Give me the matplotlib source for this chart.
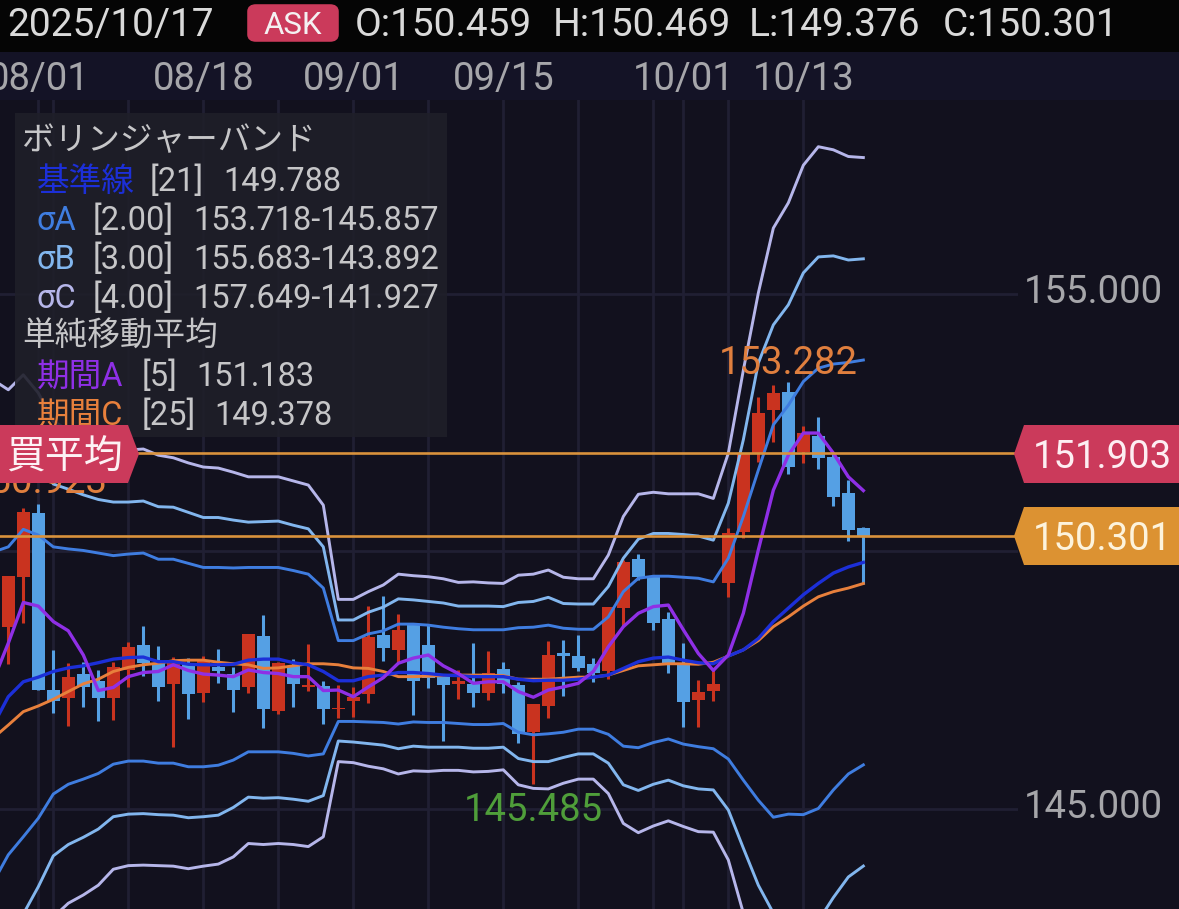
import matplotlib
matplotlib.use("Agg")
import matplotlib.pyplot as plt
from matplotlib.patches import Rectangle, Polygon, FancyBboxPatch
from matplotlib.transforms import ScaledTranslation

plt.rcParams["font.family"] = ["Roboto", "Noto Sans CJK JP", "DejaVu Sans"]

# candles, one per trading day, 08/01 is number 2
opens = [148.54, 149.50, 150.75, 147.31, 147.15, 147.63, 147.49, 147.16, 147.69, 148.18,
         147.83, 147.43, 147.84, 147.26, 147.76, 147.63, 147.37, 148.36, 146.91, 147.78,
         147.36, 147.39, 146.94, 147.10, 147.23, 148.38, 148.09, 148.59, 148.18, 147.56,
         147.43, 147.43, 147.26, 147.72, 147.41, 146.50, 147.00, 148.02, 147.98, 147.81,
         147.67, 148.91, 149.85, 149.51, 148.69, 147.83, 147.12, 147.29, 149.38, 150.37,
         151.91, 152.75, 153.10, 151.94, 152.24, 151.83, 151.14, 150.459]
closes = [149.53, 150.77, 147.32, 147.10, 147.56, 147.36, 147.15, 147.76, 148.14, 147.84,
          147.37, 147.89, 147.23, 147.89, 147.67, 147.32, 148.40, 146.94, 147.83, 147.43,
          147.41, 146.94, 146.97, 147.18, 148.33, 148.12, 148.48, 147.49, 147.54, 147.41,
          147.49, 147.25, 147.65, 147.43, 146.46, 147.04, 147.99, 147.97, 147.73, 147.65,
          148.92, 149.79, 149.50, 148.61, 147.83, 147.07, 147.27, 147.43, 150.35, 151.91,
          152.69, 153.08, 151.65, 152.30, 151.81, 151.06, 150.42, 150.301]
highs = [149.53, 150.84, 150.923, 148.09, 147.83, 147.86, 147.70, 147.86, 148.25, 148.55,
         148.17, 147.96, 147.93, 147.97, 148.11, 147.76, 148.40, 148.77, 147.86, 147.91,
         148.20, 147.49, 147.41, 147.36, 148.94, 149.14, 148.78, 148.59, 148.57, 147.56,
         147.70, 148.22, 148.07, 147.85, 147.47, 147.04, 148.26, 148.28, 148.38, 147.93,
         148.92, 149.83, 149.95, 149.54, 148.83, 148.22, 147.50, 147.70, 150.45, 151.91,
         153.00, 153.23, 153.282, 152.44, 152.61, 151.91, 151.39, 150.469]
lows = [147.82, 148.61, 147.32, 146.87, 146.62, 146.99, 146.70, 146.73, 147.36, 147.58,
        147.10, 146.21, 146.74, 147.08, 147.44, 146.88, 147.26, 146.58, 146.84, 146.99,
        147.30, 146.66, 146.76, 146.78, 147.05, 147.88, 147.84, 146.83, 147.34, 146.32,
        147.13, 146.99, 147.12, 147.25, 146.28, 145.485, 146.76, 147.20, 147.67, 147.47,
        147.52, 148.56, 149.45, 148.48, 147.65, 146.59, 146.60, 147.10, 149.11, 150.26,
        151.74, 152.13, 151.50, 151.71, 151.60, 150.89, 150.21, 149.376]

# indicator lines start one day earlier (number -1), just off the left edge
base_line = [146.63, 147.18, 147.47, 147.56, 147.67, 147.74, 147.78, 147.84, 147.91, 147.94,
             147.95, 147.86, 147.86, 147.81, 147.80, 147.80, 147.81, 147.89, 147.91, 147.91,
             147.84, 147.80, 147.67, 147.49, 147.49, 147.57, 147.60, 147.65, 147.65, 147.63,
             147.60, 147.59, 147.57, 147.57, 147.57, 147.52, 147.49, 147.50, 147.50, 147.52,
             147.56, 147.60, 147.73, 147.86, 147.93, 147.95, 147.89, 147.84, 147.82, 147.97,
             148.09, 148.31, 148.64, 148.90, 149.16, 149.38, 149.58, 149.70, 149.788]
sigma_a_up = [149.99, 150.09, 150.43, 150.32, 150.09, 150.05, 150.02, 149.97, 149.92, 149.95,
              149.97, 149.85, 149.85, 149.77, 149.69, 149.69, 149.68, 149.69, 149.69, 149.69,
              149.63, 149.56, 149.29, 148.27, 148.27, 148.40, 148.46, 148.59, 148.59, 148.57,
              148.53, 148.50, 148.48, 148.48, 148.48, 148.52, 148.53, 148.57, 148.51, 148.49,
              148.49, 148.73, 149.22, 149.48, 149.52, 149.52, 149.50, 149.48, 149.41, 149.87,
              150.68, 151.58, 152.46, 152.84, 153.30, 153.56, 153.64, 153.67, 153.718]
sigma_b_up = [151.58, 151.54, 151.90, 151.70, 151.31, 151.21, 151.10, 151.01, 150.96, 150.96,
              150.98, 150.87, 150.86, 150.76, 150.66, 150.66, 150.61, 150.57, 150.58, 150.59,
              150.51, 150.44, 150.09, 148.67, 148.67, 148.82, 148.92, 149.08, 149.06, 149.03,
              149.00, 148.94, 148.94, 148.94, 148.93, 149.01, 149.03, 149.11, 148.99, 148.98,
              148.98, 149.32, 149.87, 150.24, 150.35, 150.35, 150.33, 150.30, 150.22, 150.94,
              152.17, 153.66, 154.40, 154.79, 155.41, 155.72, 155.74, 155.66, 155.683]
sigma_c_up = [153.33, 153.14, 153.43, 153.08, 152.53, 152.36, 152.18, 152.05, 151.99, 151.97,
              151.99, 151.87, 151.82, 151.72, 151.64, 151.62, 151.54, 151.45, 151.45, 151.45,
              151.37, 151.29, 150.90, 149.07, 149.07, 149.22, 149.35, 149.56, 149.53, 149.51,
              149.47, 149.40, 149.41, 149.39, 149.38, 149.54, 149.56, 149.64, 149.50, 149.47,
              149.47, 149.93, 150.68, 151.11, 151.15, 151.12, 151.12, 151.12, 151.03, 151.91,
              153.52, 155.02, 156.28, 156.77, 157.50, 157.86, 157.80, 157.67, 157.649]
sigma_a_low = [143.58, 144.11, 144.46, 144.82, 145.29, 145.48, 145.58, 145.69, 145.87, 145.93,
               145.93, 145.89, 145.89, 145.82, 145.82, 145.85, 145.95, 146.11, 146.11, 146.11,
               146.08, 146.03, 146.07, 146.70, 146.70, 146.69, 146.68, 146.65, 146.69, 146.68,
               146.68, 146.66, 146.64, 146.64, 146.66, 146.49, 146.44, 146.46, 146.49, 146.55,
               146.55, 146.45, 146.22, 146.19, 146.29, 146.36, 146.26, 146.21, 146.17, 145.97,
               145.56, 145.17, 144.84, 144.90, 144.89, 145.01, 145.37, 145.68, 145.857]
sigma_b_low = [142.17, 142.57, 142.96, 143.49, 144.09, 144.31, 144.45, 144.61, 144.85, 144.90,
               144.91, 144.89, 144.88, 144.83, 144.85, 144.88, 145.03, 145.23, 145.21, 145.22,
               145.19, 145.15, 145.26, 146.32, 146.30, 146.27, 146.24, 146.17, 146.22, 146.20,
               146.20, 146.20, 146.18, 146.18, 146.20, 145.98, 145.92, 145.92, 146.00, 146.07,
               146.07, 145.89, 145.47, 145.36, 145.48, 145.56, 145.45, 145.39, 145.37, 144.98,
               144.24, 143.52, 142.98, 142.90, 142.76, 142.83, 143.28, 143.68, 143.892]
sigma_c_low = [140.51, 141.04, 141.45, 142.09, 142.90, 143.17, 143.33, 143.52, 143.83, 143.90,
               143.91, 143.90, 143.89, 143.84, 143.89, 143.93, 144.07, 144.33, 144.31, 144.33,
               144.31, 144.27, 144.46, 145.92, 145.90, 145.83, 145.78, 145.68, 145.74, 145.73,
               145.75, 145.75, 145.72, 145.73, 145.76, 145.47, 145.40, 145.39, 145.50, 145.58,
               145.58, 145.30, 144.72, 144.54, 144.67, 144.77, 144.66, 144.56, 144.55, 144.01,
               142.98, 142.03, 141.04, 140.90, 140.63, 140.65, 141.17, 141.66, 141.927]
sma_a = [147.50, 148.22, 149.01, 148.94, 148.64, 148.46, 147.99, 147.30, 147.36, 147.57,
         147.65, 147.67, 147.80, 147.69, 147.62, 147.60, 147.57, 147.70, 147.65, 147.63,
         147.57, 147.57, 147.30, 147.31, 147.18, 147.37, 147.55, 147.83, 147.93, 147.99,
         147.78, 147.63, 147.44, 147.47, 147.47, 147.28, 147.17, 147.31, 147.37, 147.44,
         147.67, 148.15, 148.54, 148.80, 148.93, 148.96, 148.48, 148.02, 147.69, 147.99,
         148.80, 150.03, 151.19, 151.87, 152.30, 152.30, 151.91, 151.45, 151.183]
sma_c = [146.38, 146.63, 146.89, 147.00, 147.13, 147.28, 147.43, 147.52, 147.67, 147.75,
         147.80, 147.83, 147.88, 147.89, 147.89, 147.85, 147.82, 147.80, 147.73, 147.74,
         147.78, 147.82, 147.82, 147.80, 147.74, 147.73, 147.67, 147.57, 147.57, 147.58,
         147.59, 147.60, 147.60, 147.60, 147.59, 147.52, 147.52, 147.52, 147.54, 147.56,
         147.56, 147.60, 147.69, 147.78, 147.80, 147.82, 147.82, 147.81, 147.85, 147.97,
         148.09, 148.27, 148.54, 148.73, 148.94, 149.12, 149.22, 149.29, 149.378]

grid_days = [2, 3, 8, 13, 18, 23, 28, 33, 38, 43, 45, 48, 53]
date_labels = ["08/01", "", "", "08/18", "", "09/01", "", "09/15", "", "", "10/01", "", "10/13"]
price_ticks = [145, 150, 155]
price_tick_labels = ["145.000", "", "155.000"]
avg_price = 151.903
last_price = 150.301

W, H = 1179, 909
BG = "#12111e"
RED = "#c9331f"
BLUE = "#55a0e4"
TAG_RED = "#cb3a5b"
TAG_ORANGE = "#dc9232"
C_BASE = "#1c2fd8"
C_A = "#3f7de0"
C_B = "#82b6ee"
C_C = "#b6b6ea"
C_SMA_A = "#8f2fe6"
C_SMA_C = "#e8803c"
GREY = "#c6c6c8"
TEXT_DY = 4  # Roboto sits a little high with va=center


def fx(x):
    return x / W


def fy(y):
    return 1 - y / H


fig = plt.figure(figsize=(W / 100, H / 100), dpi=100, facecolor=BG)
ax = fig.add_axes([0, 0, 1018 / W, fy(100)], facecolor=BG)
ax.set_xlim(-0.553, 67.31)
ax.set_ylim(143.058, 158.767)
for s in ax.spines.values():
    s.set_visible(False)

# axes and grid
ax.set_axisbelow(True)
ax.xaxis.tick_top()
ax.set_xticks(grid_days)
ax.set_xticklabels(date_labels)
ax.yaxis.tick_right()
ax.set_yticks(price_ticks)
ax.set_yticklabels(price_tick_labels)
ax.tick_params(axis="x", length=0, pad=1.7, labelsize=27.5, labelcolor="#a6a6aa")
ax.tick_params(axis="y", length=0, pad=4, labelsize=27.5, labelcolor="#a6a6aa")
ax.grid(True, color="#201f33", linewidth=2)
for t in ax.get_yticklabels():
    t.set_transform(t.get_transform() + ScaledTranslation(0, 5 / 100, fig.dpi_scale_trans))

# candles
days = list(range(len(opens)))
colors = [RED if c >= o else BLUE for o, c in zip(opens, closes)]
ax.vlines(days, lows, highs, colors=colors, linewidth=2.2, zorder=2)
ax.bar(days, [abs(c - o) for o, c in zip(opens, closes)],
       bottom=[min(o, c) for o, c in zip(opens, closes)],
       width=0.84, color=colors, zorder=2)

# indicators
line_days = list(range(-1, len(opens)))
for values, col, lw in [(sigma_c_up, C_C, 2.1), (sigma_c_low, C_C, 2.1),
                        (sigma_b_up, C_B, 2.1), (sigma_b_low, C_B, 2.1),
                        (sigma_a_up, C_A, 2.1), (sigma_a_low, C_A, 2.1),
                        (sma_c, C_SMA_C, 2.1), (base_line, C_BASE, 2.4), (sma_a, C_SMA_A, 2.4)]:
    ax.plot(line_days, values, color=col, linewidth=lw, zorder=3)

ax.axhline(avg_price, color="#d9923c", linewidth=1.9, zorder=4)
ax.axhline(last_price, color="#d9923c", linewidth=1.9, zorder=4)

# high and low labels of the visible range
ax.annotate(f"{highs[2]:.3f}", (days[2], highs[2]), xytext=(0, 21), textcoords="offset pixels",
            ha="center", va="center", fontsize=27.5, color="#e07f3e", zorder=5, annotation_clip=False)
ax.annotate(f"{highs[52]:.3f}", (days[52], highs[52]), xytext=(0, 19), textcoords="offset pixels",
            ha="center", va="center", fontsize=27.5, color="#e07f3e", zorder=5, annotation_clip=False)
ax.annotate(f"{lows[35]:.3f}", (days[35], lows[35]), xytext=(0, -26), textcoords="offset pixels",
            ha="center", va="center", fontsize=27.5, color="#4f9e3a", zorder=5, annotation_clip=False)

# date strip and top bar
fig.add_artist(Rectangle((0, fy(100)), 1, 48 / H, transform=fig.transFigure,
                         facecolor="#141326", edgecolor="none", zorder=-1))
fig.add_artist(Rectangle((0, fy(52)), 1, 52 / H, transform=fig.transFigure,
                         facecolor="#050505", edgecolor="none", zorder=1))
fig.add_artist(FancyBboxPatch((fx(250), fy(39)), 86 / W, 32 / H,
                              boxstyle="round,pad=0,rounding_size=0.005",
                              transform=fig.transFigure, facecolor=TAG_RED, edgecolor=TAG_RED,
                              linewidth=4, zorder=2))
fig.text(fx(293), fy(23 + 2), "ASK", ha="center", va="center", fontsize=22.5, color="#f4f0f2", zorder=3)
for x, txt in [(7, "2025/10/17"), (355, "O:150.459"), (553, "H:150.469"),
               (749, "L:149.376"), (943, "C:150.301")]:
    fig.text(fx(x), fy(22 + TEXT_DY), txt, ha="left", va="center", fontsize=28, color="#dadada", zorder=3)

# legend panel
fig.add_artist(Rectangle((fx(15), fy(437)), 432 / W, 324 / H, transform=fig.transFigure,
                         facecolor="#1f1f29", edgecolor="none", alpha=0.9, zorder=5))
legend_rows = [
    (137, [(22, "ボリンジャーバンド", GREY)]),
    (178, [(37, "基準線", C_BASE), (150, "[21]", GREY), (223, "149.788", GREY)]),
    (217, [(37, "σA", C_A), (93, "[2.00]", GREY), (193, "153.718-145.857", GREY)]),
    (256, [(37, "σB", C_B), (93, "[3.00]", GREY), (193, "155.683-143.892", GREY)]),
    (295, [(37, "σC", C_C), (93, "[4.00]", GREY), (193, "157.649-141.927", GREY)]),
    (333, [(22, "単純移動平均", GREY)]),
    (373, [(37, "期間A", C_SMA_A), (142, "[5]", GREY), (196, "151.183", GREY)]),
    (412, [(37, "期間C", C_SMA_C), (142, "[25]", GREY), (214, "149.378", GREY)]),
]
for y, parts in legend_rows:
    for x, txt, col in parts:
        fig.text(fx(x), fy(y + TEXT_DY), txt, ha="left", va="center", fontsize=23.5, color=col, zorder=6)

# price tags
fig.add_artist(Polygon([(fx(0), fy(425)), (fx(128), fy(425)), (fx(139), fy(454)),
                        (fx(128), fy(483)), (fx(0), fy(483))], closed=True,
                       transform=fig.transFigure, facecolor=TAG_RED, edgecolor="none", zorder=7))
fig.text(fx(6), fy(454 + TEXT_DY), "買平均", ha="left", va="center", fontsize=28, color="#fdf2f5", zorder=8)

for y, col, txt, tcol in [(454, TAG_RED, f"{avg_price:.3f}", "#fdeef2"),
                          (536, TAG_ORANGE, f"{last_price:.3f}", "#fdf3dc")]:
    fig.add_artist(Polygon([(fx(1014), fy(y)), (fx(1024), fy(y - 29)), (1, fy(y - 29)),
                            (1, fy(y + 29)), (fx(1024), fy(y + 29))], closed=True,
                           transform=fig.transFigure, facecolor=col, edgecolor="none", zorder=7))
    fig.text(fx(1033), fy(y + 3), txt, ha="left", va="center", fontsize=27.5, color=tcol, zorder=8)

fig.savefig("out.png", dpi=100, facecolor=fig.get_facecolor())
